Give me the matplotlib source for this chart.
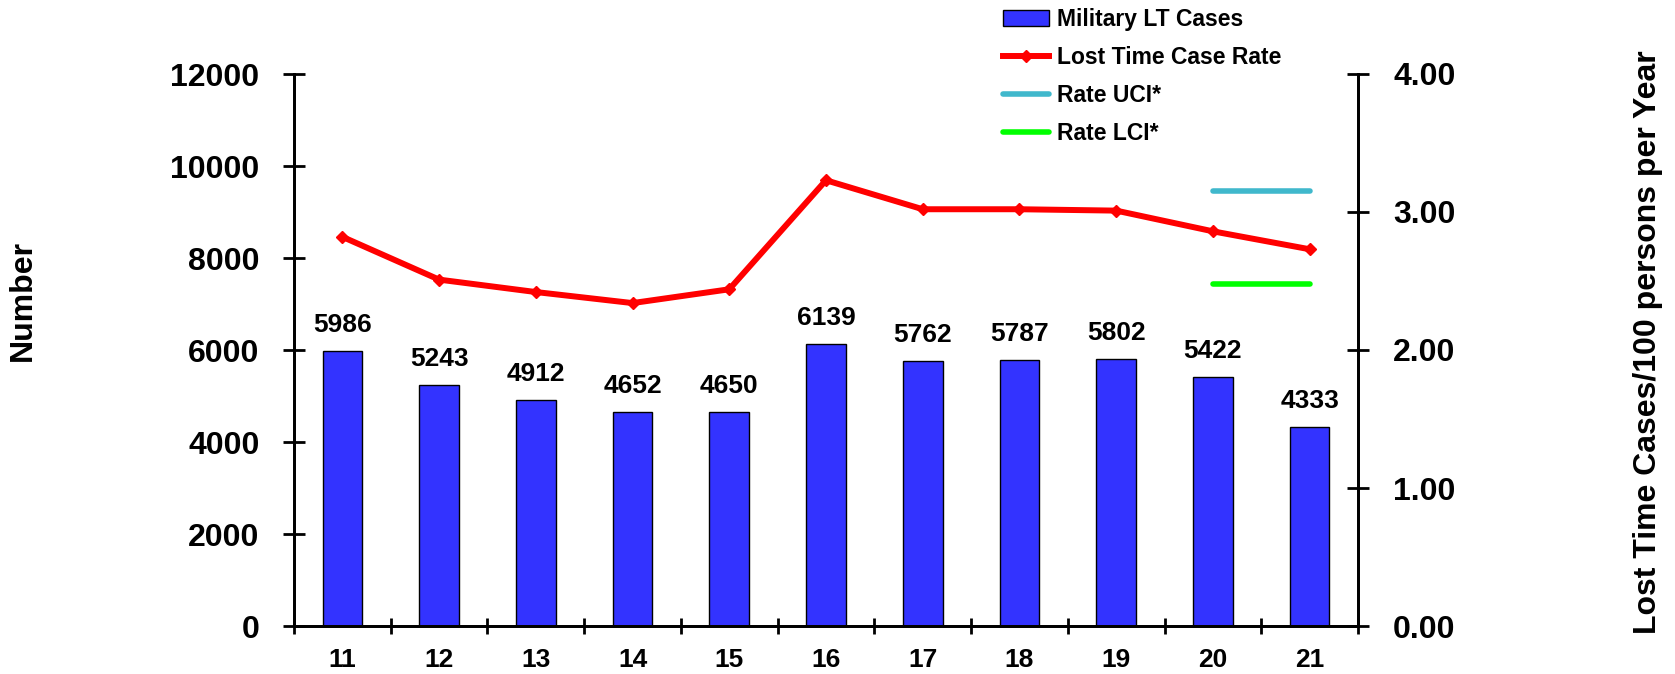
import matplotlib.pyplot as plt
import numpy as np
from matplotlib.ticker import FormatStrFormatter, MultipleLocator

plt.rcParams['font.family'] = ['Liberation Sans', 'DejaVu Sans']
plt.rcParams['font.weight'] = 'bold'

years = ['11', '12', '13', '14', '15', '16', '17', '18', '19', '20', '21']
lt_cases = [5986, 5243, 4912, 4652, 4650, 6139, 5762, 5787, 5802, 5422, 4333]
case_rate = [2.82, 2.51, 2.42, 2.34, 2.44, 3.23, 3.02, 3.02, 3.01, 2.86, 2.73]
rate_uci = [np.nan] * 9 + [3.15, 3.15]
rate_lci = [np.nan] * 9 + [2.48, 2.48]

fig = plt.figure(figsize=(16.75, 6.74), dpi=100)
ax = fig.add_axes([294 / 1675, 48 / 674, 1064 / 1675, 552 / 674])
ax2 = ax.twinx()

x = np.arange(len(years))
bars = ax.bar(x, lt_cases, width=0.41, color='#3333FF', edgecolor='black',
              linewidth=1, label='Military LT Cases')
ax.bar_label(bars, padding=10, fontsize=19, fontweight='bold')

ax2.plot(x, case_rate, color='red', linewidth=4.3, marker='D', markersize=6,
         label='Lost Time Case Rate')
ax2.plot(x, rate_uci, color='#40B8CC', linewidth=4, solid_capstyle='round',
         label='Rate UCI*')
ax2.plot(x, rate_lci, color='#00FF00', linewidth=4, solid_capstyle='round',
         label='Rate LCI*')

ax.set_xlim(-0.5, len(years) - 0.5)
ax.set_ylim(0, 12000)
ax2.set_ylim(0, 4)
ax.set_yticks(np.arange(0, 12001, 2000))
ax2.set_yticks(np.arange(0, 4.01, 1))
ax2.yaxis.set_major_formatter(FormatStrFormatter('%.2f'))

ax.set_xticks(x)
ax.set_xticklabels(years)
ax.xaxis.set_minor_locator(MultipleLocator(1, offset=0.5))
ax.tick_params(axis='x', which='major', length=0, pad=16, labelsize=19)
ax.tick_params(axis='x', which='minor', direction='inout', length=11.5, width=2)
ax.tick_params(axis='y', direction='inout', length=16.5, width=2, pad=16.5, labelsize=23)
ax2.tick_params(axis='y', direction='inout', length=16.5, width=2, pad=17, labelsize=23)

for a in (ax, ax2):
    a.spines['top'].set_visible(False)
    for s in ('left', 'right', 'bottom'):
        a.spines[s].set_linewidth(2)

fig.text(23 / 1675, 1 - 301 / 674, 'Number', rotation=90, ha='center', va='center',
         fontsize=23, fontweight='bold')
fig.text(1648 / 1675, 1 - 342 / 674, 'Lost Time Cases/100 persons per Year', rotation=90,
         ha='center', va='center', fontsize=23, fontweight='bold')

handles = [bars] + ax2.get_lines()
fig.legend(handles, [h.get_label() for h in handles], loc='upper left',
           bbox_to_anchor=(1003 / 1675, 1 - 8 / 674), frameon=False,
           borderpad=0, borderaxespad=0, handlelength=2.0, handletextpad=0.35,
           labelspacing=0.66, prop={'weight': 'bold', 'size': 16.5})

fig.savefig('out.png', dpi=100)
